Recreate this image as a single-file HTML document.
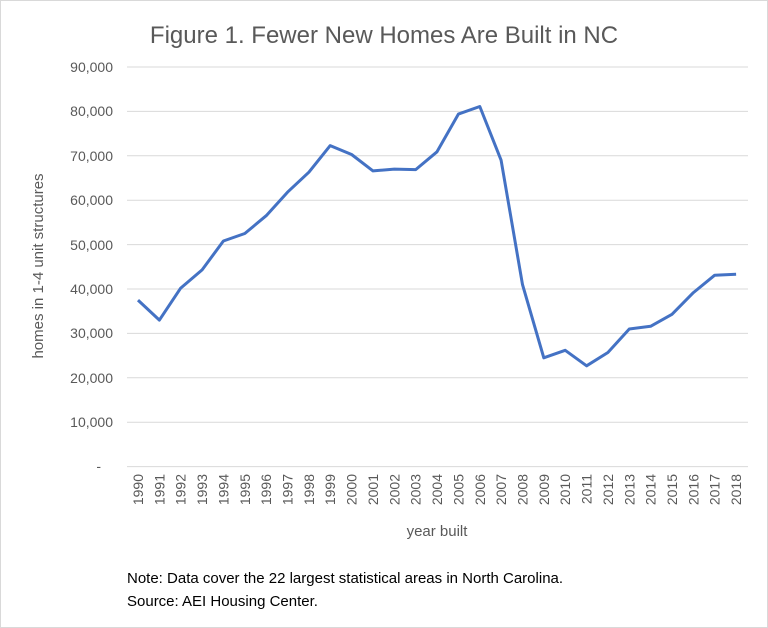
<!DOCTYPE html>
<html><head><meta charset="utf-8"><style>
body{margin:0;background:#fff;}
svg{display:block;font-family:"Liberation Sans",sans-serif;}
</style></head><body>
<svg width="768" height="628" viewBox="0 0 768 628">
<rect x="0.5" y="0.5" width="767" height="627" fill="#fff" stroke="#d9d9d9"/>
<text x="384" y="43" text-anchor="middle" font-size="24" fill="#595959">Figure 1. Fewer New Homes Are Built in NC</text>
<g stroke="#d9d9d9" stroke-width="1">
<line x1="127" x2="748" y1="67" y2="67"/><line x1="127" x2="748" y1="111.4" y2="111.4"/>
<line x1="127" x2="748" y1="155.8" y2="155.8"/><line x1="127" x2="748" y1="200.2" y2="200.2"/>
<line x1="127" x2="748" y1="244.6" y2="244.6"/><line x1="127" x2="748" y1="289" y2="289"/>
<line x1="127" x2="748" y1="333.4" y2="333.4"/><line x1="127" x2="748" y1="377.8" y2="377.8"/>
<line x1="127" x2="748" y1="422.2" y2="422.2"/><line x1="127" x2="748" y1="466.6" y2="466.6"/>
</g>
<g font-size="14" fill="#595959" text-anchor="end">
<text x="113" y="72">90,000</text><text x="113" y="116">80,000</text><text x="113" y="161">70,000</text>
<text x="113" y="205">60,000</text><text x="113" y="250">50,000</text><text x="113" y="294">40,000</text>
<text x="113" y="338">30,000</text><text x="113" y="383">20,000</text><text x="113" y="427">10,000</text>
<text x="101" y="471">-</text>
</g>
<text transform="translate(43,266) rotate(-90)" text-anchor="middle" font-size="15" fill="#595959">homes in 1-4 unit structures</text>
<g font-size="14" fill="#595959" text-anchor="end">
<text transform="translate(143,474) rotate(-90)">1990</text>
<text transform="translate(164.4,474) rotate(-90)">1991</text>
<text transform="translate(185.7,474) rotate(-90)">1992</text>
<text transform="translate(207.1,474) rotate(-90)">1993</text>
<text transform="translate(228.4,474) rotate(-90)">1994</text>
<text transform="translate(249.8,474) rotate(-90)">1995</text>
<text transform="translate(271.2,474) rotate(-90)">1996</text>
<text transform="translate(292.5,474) rotate(-90)">1997</text>
<text transform="translate(313.9,474) rotate(-90)">1998</text>
<text transform="translate(335.2,474) rotate(-90)">1999</text>
<text transform="translate(356.6,474) rotate(-90)">2000</text>
<text transform="translate(378,474) rotate(-90)">2001</text>
<text transform="translate(399.3,474) rotate(-90)">2002</text>
<text transform="translate(420.7,474) rotate(-90)">2003</text>
<text transform="translate(442,474) rotate(-90)">2004</text>
<text transform="translate(463.4,474) rotate(-90)">2005</text>
<text transform="translate(484.8,474) rotate(-90)">2006</text>
<text transform="translate(506.1,474) rotate(-90)">2007</text>
<text transform="translate(527.5,474) rotate(-90)">2008</text>
<text transform="translate(548.8,474) rotate(-90)">2009</text>
<text transform="translate(570.2,474) rotate(-90)">2010</text>
<text transform="translate(591.6,474) rotate(-90)">2011</text>
<text transform="translate(612.9,474) rotate(-90)">2012</text>
<text transform="translate(634.3,474) rotate(-90)">2013</text>
<text transform="translate(655.6,474) rotate(-90)">2014</text>
<text transform="translate(677,474) rotate(-90)">2015</text>
<text transform="translate(698.4,474) rotate(-90)">2016</text>
<text transform="translate(719.7,474) rotate(-90)">2017</text>
<text transform="translate(741.1,474) rotate(-90)">2018</text>
</g>
<text x="437" y="536" text-anchor="middle" font-size="15" fill="#595959">year built</text>
<polyline fill="none" stroke="#4472C4" stroke-width="3" stroke-linejoin="round" points="138,300.1 159.4,320.1 180.7,288.1 202.1,269.9 223.4,241 244.8,233.5 266.2,215.7 287.5,192.2 308.9,172.2 330.2,145.6 351.6,154.5 373,170.9 394.3,169.1 415.7,169.6 437,151.8 458.4,114.1 479.8,106.5 501.1,160.2 522.5,284.6 543.8,357.8 565.2,350.3 586.6,365.8 607.9,352.5 629.3,329 650.6,326.3 672,314.3 693.4,292.6 714.7,275.2 736.1,274.3"/>
<text x="127" y="583" font-size="15" fill="#000">Note: Data cover the 22 largest statistical areas in North Carolina.</text>
<text x="127" y="606" font-size="15" fill="#000">Source: AEI Housing Center.</text>
</svg>
</body></html>
